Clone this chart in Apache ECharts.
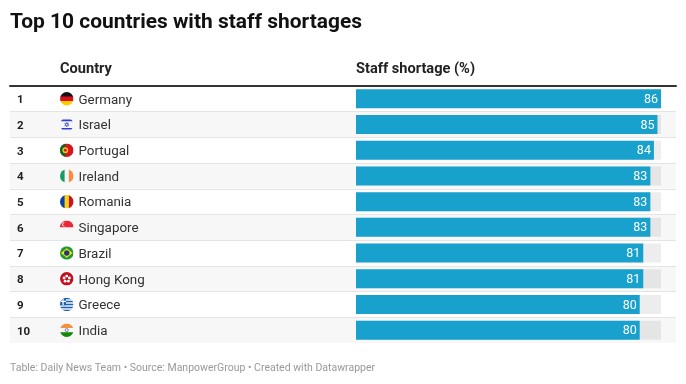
<!DOCTYPE html>
<html><head><meta charset="utf-8">
<style>html,body{margin:0;padding:0;background:#fff}#c{width:686px;height:384px}</style>
<script src="https://cdn.jsdelivr.net/npm/echarts@6/dist/echarts.min.js"></script>
</head><body><div id="c"></div>
<script>
const ranks=[1,2,3,4,5,6,7,8,9,10];
const countries=['Germany','Israel','Portugal','Ireland','Romania','Singapore','Brazil','Hong Kong','Greece','India'];
const shortage=[86,85,84,83,83,83,81,81,80,80];
const flagArt=[
 '<rect width="28" height="10" fill="#111"/><rect y="9.3" width="28" height="9.4" fill="#d8101c"/><rect y="18.6" width="28" height="10" fill="#fc0"/>',
 '<rect width="28" height="28" fill="#f4f4fb"/><rect y="3.5" width="28" height="3.5" fill="#2b3fd0"/><rect y="21" width="28" height="3.5" fill="#2b3fd0"/><path d="M14 9.5l4 7h-8zM14 18.5l-4-7h8z" fill="none" stroke="#2b3fd0" stroke-width="1.2"/>',
 '<rect width="28" height="28" fill="#d8141c"/><rect width="11" height="28" fill="#0a6a2a"/><circle cx="11" cy="14" r="6" fill="#f3c81c"/><circle cx="11" cy="14" r="3" fill="#d8141c"/>',
 '<rect width="28" height="28" fill="#f4f4f4"/><rect width="9.5" height="28" fill="#169b62"/><rect x="18.5" width="10" height="28" fill="#ff883e"/>',
 '<rect width="28" height="28" fill="#fcd116"/><rect width="9.5" height="28" fill="#0a3fb0"/><rect x="18.5" width="10" height="28" fill="#ce1126"/>',
 '<rect width="28" height="28" fill="#f6f6f6"/><rect width="28" height="14" fill="#ee2536"/><circle cx="9" cy="7.5" r="4.5" fill="#fff"/><circle cx="11" cy="7.5" r="4.5" fill="#ee2536"/>',
 '<rect width="28" height="28" fill="#1f9a3a"/><path d="M14 4L26 14 14 24 2 14z" fill="#fedf00"/><circle cx="14" cy="14" r="5.6" fill="#1c3a8c"/>',
 '<rect width="28" height="28" fill="#c20f1e"/><g fill="#fff"><circle cx="14" cy="8.5" r="3"/><circle cx="19.5" cy="12.5" r="3"/><circle cx="17.4" cy="19" r="3"/><circle cx="10.6" cy="19" r="3"/><circle cx="8.5" cy="12.5" r="3"/></g>',
 '<rect width="28" height="28" fill="#f4f6fa"/><g fill="#1a62b4"><rect y="0" width="28" height="3.1"/><rect y="6.2" width="28" height="3.1"/><rect y="12.4" width="28" height="3.1"/><rect y="18.6" width="28" height="3.1"/><rect y="24.8" width="28" height="3.2"/><rect width="12.4" height="15.5"/></g><rect x="5" width="2.6" height="15.5" fill="#fff"/><rect y="6.2" width="12.4" height="2.8" fill="#fff"/>',
 '<rect width="28" height="28" fill="#f6f6f6"/><rect width="28" height="9.5" fill="#f7913a"/><rect y="18.5" width="28" height="10" fill="#138808"/><circle cx="14" cy="14" r="3.2" fill="none" stroke="#1c3a8c" stroke-width="1.2"/>'
];
const flagUri=s=>'data:image/svg+xml;charset=utf-8,'+encodeURIComponent('<svg xmlns="http://www.w3.org/2000/svg" width="28" height="28" viewBox="0 0 28 28"><defs><clipPath id="c"><circle cx="14" cy="14" r="14"/></clipPath></defs><g clip-path="url(#c)">'+s+'</g></svg>');
const rich={
 rank:{width:43,fontFamily:'Roboto',fontSize:11.5,fontWeight:700,color:'#222',align:'left',padding:[3,0,0,0]},
 name:{fontFamily:'Roboto',fontSize:13.4,color:'#333',padding:[3,0,0,5]}
};
flagArt.forEach((s,i)=>{const im=new Image();im.src=flagUri(s);rich['f'+i]={width:13.5,height:13.5,backgroundColor:{image:flagUri(s)}};});

const chart=echarts.init(document.getElementById('c'),null,{renderer:'canvas'});
chart.setOption({
 animation:false,
 backgroundColor:'#fff',
 title:[
  {text:'Top 10 countries with staff shortages',left:10,top:12,textStyle:{fontFamily:'Roboto',fontSize:20.95,fontWeight:700,color:'#111'},padding:0},
  {text:'Country',left:60,top:62,textStyle:{fontFamily:'Roboto',fontSize:14.6,fontWeight:700,color:'#222'},padding:0},
  {text:'Staff shortage (%)',left:356,top:62,textStyle:{fontFamily:'Roboto',fontSize:14.6,fontWeight:700,color:'#222'},padding:0},
  {text:'Table: Daily News Team • Source: ManpowerGroup • Created with Datawrapper',left:10,top:363,textStyle:{fontFamily:'Roboto',fontSize:10.5,fontWeight:400,color:'#999'},padding:0}
 ],
 grid:[
  {left:10,width:666,top:86,height:257},
  {left:356,width:305,top:86,height:257}
 ],
 xAxis:[
  {gridIndex:0,type:'value',position:'top',min:0,max:1,axisLine:{show:true,onZero:false,lineStyle:{color:'#333',width:2}},axisTick:{show:false},axisLabel:{show:false},splitLine:{show:false}},
  {gridIndex:1,type:'value',min:0,max:86,show:false}
 ],
 yAxis:[
  {gridIndex:0,type:'category',inverse:true,data:countries,
   axisLine:{show:false},axisTick:{show:false},
   splitArea:{show:true,interval:0,areaStyle:{color:['#ffffff','#f7f7f7']}},
   splitLine:{show:true,interval:0,showMinLine:false,showMaxLine:false,lineStyle:{color:'#e4e4e4',width:1}},
   axisLabel:{inside:true,margin:7,align:'left',interval:0,
    formatter:(v,i)=>`{rank|${ranks[i]}}{f${i}|}{name|${v}}`,rich}},
  {gridIndex:1,type:'category',inverse:true,data:countries,show:false}
 ],
 series:[{
  type:'bar',xAxisIndex:1,yAxisIndex:1,data:shortage,barWidth:19,
  itemStyle:{color:'#18a1cd'},
  showBackground:true,backgroundStyle:{color:'rgba(0,0,0,0.07)'},
  label:{show:true,position:'insideRight',distance:3,offset:[0,1],color:'#fff',fontFamily:'Roboto',fontSize:12.5}
 }]
});
setTimeout(()=>chart.setOption({}),200);
</script></body></html>
